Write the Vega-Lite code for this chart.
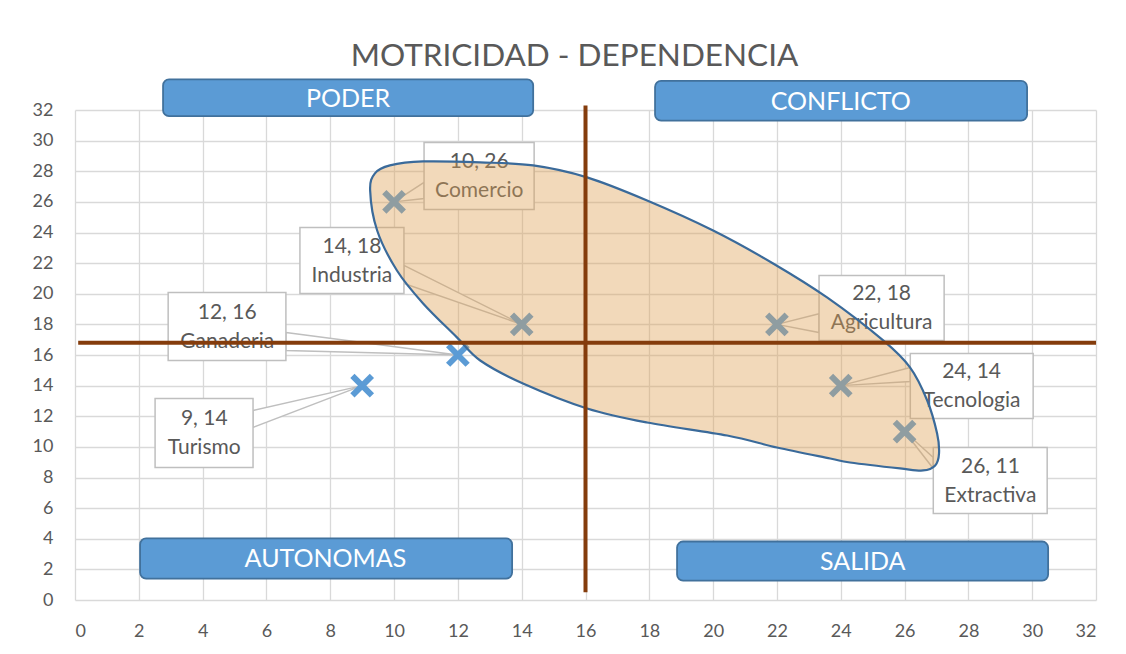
{
  "$schema": "https://vega.github.io/schema/vega-lite/v6.json",
  "width": 1021,
  "height": 490,
  "autosize": {"type": "none"},
  "padding": {"left": 75, "top": 110, "right": 30, "bottom": 54},
  "background": "white",
  "title": {"text": "MOTRICIDAD - DEPENDENCIA", "font": "Lato", "fontSize": 31.5, "fontWeight": "normal", "color": "#595959", "anchor": "middle", "frame": "group", "dx": -11, "offset": 6},
  "config": {
    "view": {"stroke": null},
    "axis": {"labelFont": "Lato", "labelFontSize": 18, "labelColor": "#595959", "gridColor": "#D9D9D9", "gridWidth": 1.3, "domain": false, "ticks": false}
  },
  "encoding": {
    "x": {"field": "x", "type": "quantitative", "scale": {"domain": [0, 32], "nice": false, "zero": false}, "axis": {"title": null, "values": [0,2,4,6,8,10,12,14,16,18,20,22,24,26,28,30,32], "labelPadding": 22, "grid": true}},
    "y": {"field": "y", "type": "quantitative", "scale": {"domain": [0, 32], "nice": false, "zero": false}, "axis": {"title": null, "values": [0,2,4,6,8,10,12,14,16,18,20,22,24,26,28,30,32], "labelPadding": 22, "grid": true}}
  },
  "layer": [
    {
      "data": {"values": [
        {"id": "Comercio", "o": 1, "x": 10.94, "y": 27.27}, {"id": "Comercio", "o": 2, "x": 10, "y": 26}, {"id": "Comercio", "o": 3, "x": 10.94, "y": 26.22},
        {"id": "Industria", "o": 1, "x": 10.31, "y": 21.85}, {"id": "Industria", "o": 2, "x": 14, "y": 18}, {"id": "Industria", "o": 3, "x": 10.31, "y": 20.67},
        {"id": "Ganaderia", "o": 1, "x": 6.61, "y": 17.47}, {"id": "Ganaderia", "o": 2, "x": 12, "y": 16}, {"id": "Ganaderia", "o": 3, "x": 6.61, "y": 16.3},
        {"id": "Turismo", "o": 1, "x": 5.58, "y": 12.38}, {"id": "Turismo", "o": 2, "x": 9, "y": 14}, {"id": "Turismo", "o": 3, "x": 5.58, "y": 11.27},
        {"id": "Agricultura", "o": 1, "x": 23.32, "y": 18.7}, {"id": "Agricultura", "o": 2, "x": 22, "y": 18}, {"id": "Agricultura", "o": 3, "x": 23.32, "y": 17.47},
        {"id": "Tecnologia", "o": 1, "x": 26.18, "y": 15.19}, {"id": "Tecnologia", "o": 2, "x": 24, "y": 14}, {"id": "Tecnologia", "o": 3, "x": 26.18, "y": 14.27},
        {"id": "Extractiva", "o": 1, "x": 26.9, "y": 9.31}, {"id": "Extractiva", "o": 2, "x": 26, "y": 11}, {"id": "Extractiva", "o": 3, "x": 26.9, "y": 8.59}
      ]},
      "mark": {"type": "line", "interpolate": "linear-closed", "fill": "white", "stroke": "#BFBFBF", "strokeWidth": 1.5},
      "encoding": {"detail": {"field": "id"}, "order": {"field": "o", "type": "quantitative"}}
    },
    {
      "data": {"values": [
        {"name": "Comercio", "x": 10.94, "x2": 14.39, "y": 29.88, "y2": 25.51},
        {"name": "Industria", "x": 7.05, "x2": 10.31, "y": 24.33, "y2": 20.02},
        {"name": "Ganaderia", "x": 2.92, "x2": 6.61, "y": 20.08, "y2": 15.64},
        {"name": "Turismo", "x": 2.51, "x2": 5.58, "y": 13.16, "y2": 8.65},
        {"name": "Agricultura", "x": 23.32, "x2": 27.24, "y": 21.2, "y2": 16.95},
        {"name": "Tecnologia", "x": 26.18, "x2": 30.03, "y": 16.1, "y2": 11.86},
        {"name": "Extractiva", "x": 26.9, "x2": 30.47, "y": 9.96, "y2": 5.65}
      ]},
      "mark": {"type": "rect", "fill": "white", "stroke": "#BFBFBF", "strokeWidth": 1.5},
      "encoding": {"x2": {"field": "x2"}, "y2": {"field": "y2"}}
    },
    {
      "data": {"values": [
        {"label": "10, 26\nComercio", "x": 12.67, "y": 28.6},
        {"label": "14, 18\nIndustria", "x": 8.68, "y": 23.08},
        {"label": "12, 16\nGanaderia", "x": 4.77, "y": 18.76},
        {"label": "9, 14\nTurismo", "x": 4.05, "y": 11.8},
        {"label": "22, 18\nAgricultura", "x": 25.28, "y": 19.98},
        {"label": "24, 14\nTecnologia", "x": 28.1, "y": 14.88},
        {"label": "26, 11\nExtractiva", "x": 28.69, "y": 8.7}
      ]},
      "mark": {"type": "text", "font": "Lato", "fontSize": 21, "color": "#595959", "lineBreak": "\n", "lineHeight": 29, "align": "center", "baseline": "middle"},
      "encoding": {"text": {"field": "label"}}
    },
    {
      "data": {"values": [
        {"name": "Comercio", "x": 10, "y": 26},
        {"name": "Industria", "x": 14, "y": 18},
        {"name": "Ganaderia", "x": 12, "y": 16},
        {"name": "Turismo", "x": 9, "y": 14},
        {"name": "Agricultura", "x": 22, "y": 18},
        {"name": "Tecnologia", "x": 24, "y": 14},
        {"name": "Extractiva", "x": 26, "y": 11}
      ]},
      "mark": {"type": "point", "shape": "M -1 -1 L 1 1 M 1 -1 L -1 1", "filled": false, "stroke": "#5B9BD5", "strokeWidth": 6, "size": 380, "opacity": 1}
    },
    {
      "data": {"values": [
        {"o": 1, "x": 9.25, "y": 26.75}, {"o": 2, "x": 9.4, "y": 27.86}, {"o": 3, "x": 9.87, "y": 28.38}, {"o": 4, "x": 10.91, "y": 28.64},
        {"o": 5, "x": 12.7, "y": 28.58}, {"o": 6, "x": 14.36, "y": 28.38}, {"o": 7, "x": 16.05, "y": 27.6}, {"o": 8, "x": 17.93, "y": 26.09},
        {"o": 9, "x": 20.0, "y": 24.13}, {"o": 10, "x": 21.88, "y": 21.98}, {"o": 11, "x": 23.57, "y": 19.76}, {"o": 12, "x": 25.33, "y": 16.95},
        {"o": 13, "x": 26.17, "y": 15.19}, {"o": 14, "x": 26.71, "y": 13.03}, {"o": 15, "x": 27.02, "y": 10.87}, {"o": 16, "x": 27.08, "y": 9.57},
        {"o": 17, "x": 26.96, "y": 8.79}, {"o": 18, "x": 26.58, "y": 8.46}, {"o": 19, "x": 25.86, "y": 8.59}, {"o": 20, "x": 24.29, "y": 8.98},
        {"o": 21, "x": 23.67, "y": 9.24}, {"o": 22, "x": 22.0, "y": 9.96}, {"o": 23, "x": 20.44, "y": 10.74}, {"o": 24, "x": 17.93, "y": 11.59},
        {"o": 25, "x": 16.05, "y": 12.51}, {"o": 26, "x": 14.04, "y": 14.14}, {"o": 27, "x": 12.7, "y": 15.64}, {"o": 28, "x": 11.97, "y": 17.15},
        {"o": 29, "x": 10.91, "y": 19.37}, {"o": 30, "x": 10.09, "y": 21.52}, {"o": 31, "x": 9.47, "y": 24.13}
      ]},
      "mark": {"type": "line", "interpolate": "cardinal-closed", "fill": "#DEA052", "fillOpacity": 0.4, "stroke": "#3A6A9A", "strokeWidth": 2.2},
      "encoding": {"order": {"field": "o", "type": "quantitative"}}
    },
    {
      "data": {"values": [{"x": 0.1, "x2": 32, "y": 16.8}]},
      "mark": {"type": "rule", "stroke": "#843C0C", "strokeWidth": 4},
      "encoding": {"x2": {"field": "x2"}}
    },
    {
      "data": {"values": [{"x": 16, "y": 0.5, "y2": 32.3}]},
      "mark": {"type": "rule", "stroke": "#843C0C", "strokeWidth": 4},
      "encoding": {"y2": {"field": "y2"}}
    },
    {
      "data": {"values": [
        {"q": "PODER", "x": 2.76, "x2": 14.36, "y": 34.0, "y2": 31.6},
        {"q": "CONFLICTO", "x": 18.18, "x2": 29.84, "y": 33.9, "y2": 31.3},
        {"q": "AUTONOMAS", "x": 2.04, "x2": 13.7, "y": 4.02, "y2": 1.4},
        {"q": "SALIDA", "x": 18.87, "x2": 30.5, "y": 3.82, "y2": 1.27}
      ]},
      "mark": {"type": "rect", "fill": "#5B9BD5", "stroke": "#41719C", "strokeWidth": 1.8, "cornerRadius": 6},
      "encoding": {"x2": {"field": "x2"}, "y2": {"field": "y2"}}
    },
    {
      "data": {"values": [
        {"q": "PODER", "x": 8.56, "y": 32.75},
        {"q": "CONFLICTO", "x": 24.0, "y": 32.55},
        {"q": "AUTONOMAS", "x": 7.85, "y": 2.68},
        {"q": "SALIDA", "x": 24.69, "y": 2.5}
      ]},
      "mark": {"type": "text", "font": "Lato", "fontSize": 25, "color": "white", "align": "center", "baseline": "middle"},
      "encoding": {"text": {"field": "q"}}
    }
  ]
}
